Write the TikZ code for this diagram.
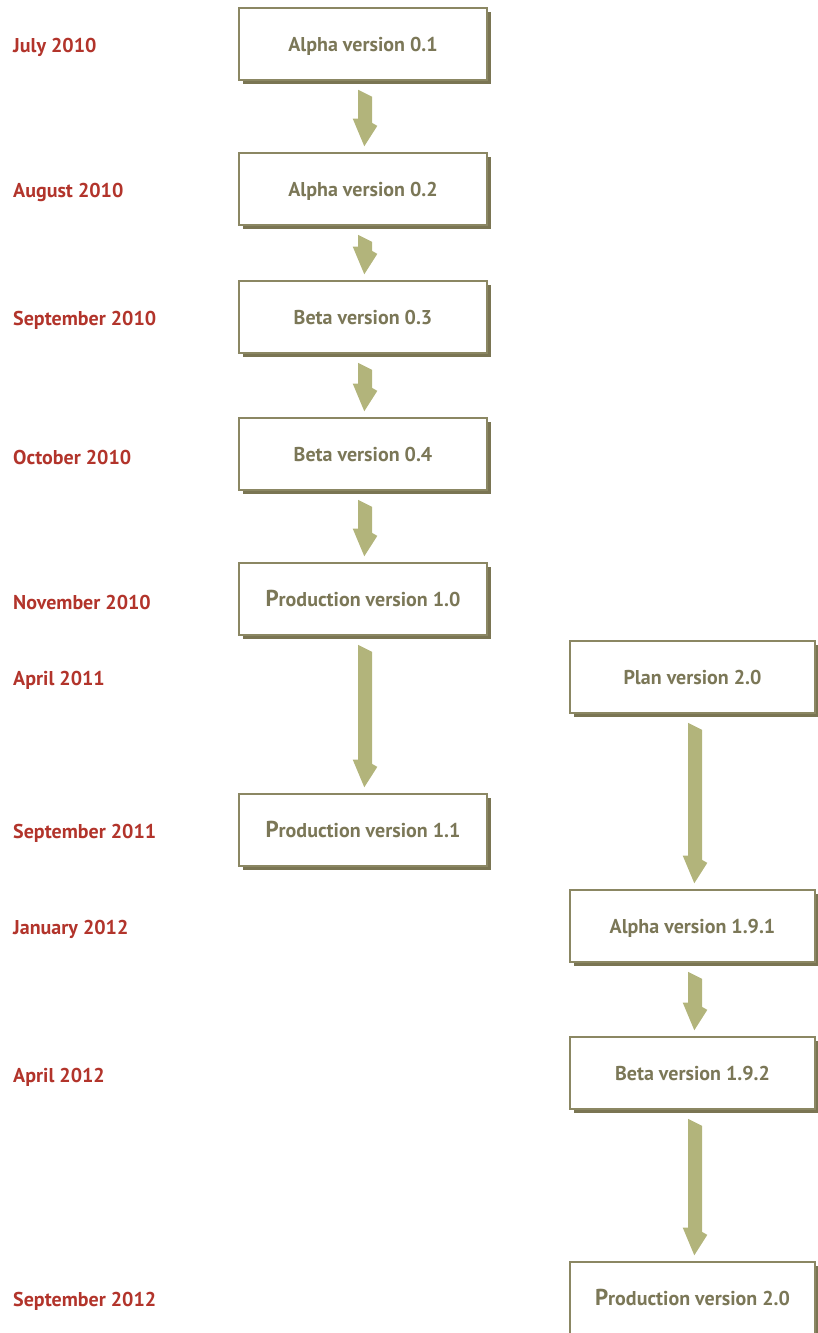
\documentclass[tikz,border=0pt]{standalone}
\usepackage{fontspec}
\setmainfont{PT Sans}
\usetikzlibrary{calc,shadows}

\definecolor{boxline}{HTML}{8B8763}
\definecolor{boxshadow}{HTML}{7A7553}
\definecolor{boxtext}{HTML}{7B7757}
\definecolor{datered}{HTML}{B2342B}
\definecolor{arrowfill}{HTML}{B2B47B}

\tikzset{
  release/.style={draw=boxline, line width=1.5pt, fill=white,
    minimum height=72pt, inner sep=0pt, text height=16pt, text depth=2pt,
    text=boxtext, font=\fontsize{20}{22}\selectfont\bfseries,
    general shadow={fill=boxshadow, shadow xshift=4pt, shadow yshift=-4pt}},
  leftbox/.style={release, minimum width=248pt},
  rightbox/.style={release, minimum width=245pt},
  datelabel/.style={anchor=west, inner sep=0pt, text=datered,
    font=\fontsize{20}{22}\selectfont\bfseries},
}

% skewed block arrow from below node #2 to above node #3, shifted #1 sideways
\newcommand\flowarrow[3][2]{%
  \fill[arrowfill] let \p1=($(#2.south)+(#1,9)$), \p2=($(#3.north)+(#1,-6)$) in
    (\x1-7pt,\y1) -- (\x1+7pt,\y1-7pt) -- (\x1+7pt,\y2+23.4pt)
    -- (\x1+12.3pt,\y2+20.4pt) -- (\x1-0.7pt,\y2)
    -- (\x1-12.3pt,\y2+27.7pt) -- (\x1-7pt,\y2+27.7pt) -- cycle;}

\newcommand\bigP{{\fontsize{23}{22}\selectfont P}}

\begin{document}
\begin{tikzpicture}[x=1pt,y=-1pt]
  \useasboundingbox (0,0) rectangle (817,1333);

  % releases, left column
  \node[leftbox] (v01) at (363,44) {Alpha version 0.1};
  \node[leftbox] (v02) at (363,189) {Alpha version 0.2};
  \node[leftbox] (v03) at (363,317) {Beta version 0.3};
  \node[leftbox] (v04) at (363,454) {Beta version 0.4};
  \node[leftbox] (v10) at (363,599) {\bigP roduction version 1.0};
  \node[leftbox] (v11) at (363,830) {\bigP roduction version 1.1};

  % releases, right column
  \node[rightbox] (p20) at (692.5,677) {Plan version 2.0};
  \node[rightbox] (v191) at (692.5,926) {Alpha version 1.9.1};
  \node[rightbox] (v192) at (692.5,1073) {Beta version 1.9.2};
  \node[rightbox] (v20) at (692.5,1298) {\bigP roduction version 2.0};

  % dates
  \node[datelabel] (d1) at (13,47) {July 2010};
  \node[datelabel] (d2) at (13,192) {August 2010};
  \node[datelabel] (d3) at (13,320) {September 2010};
  \node[datelabel] (d4) at (13,457) {October 2010};
  \node[datelabel] (d5) at (13,602) {November 2010};
  \node[datelabel] (d6) at (13,680) {April 2011};
  \node[datelabel] (d7) at (13,833) {September 2011};
  \node[datelabel] (d8) at (13,929) {January 2012};
  \node[datelabel] (d9) at (13,1077) {April 2012};
  \node[datelabel] (d10) at (13,1301) {September 2012};

  % transitions
  \flowarrow{v01}{v02}
  \flowarrow{v02}{v03}
  \flowarrow{v03}{v04}
  \flowarrow{v04}{v10}
  \flowarrow{v10}{v11}
  \flowarrow[2.5]{p20}{v191}
  \flowarrow[2.5]{v191}{v192}
  \flowarrow[2.5]{v192}{v20}
\end{tikzpicture}
\end{document}
